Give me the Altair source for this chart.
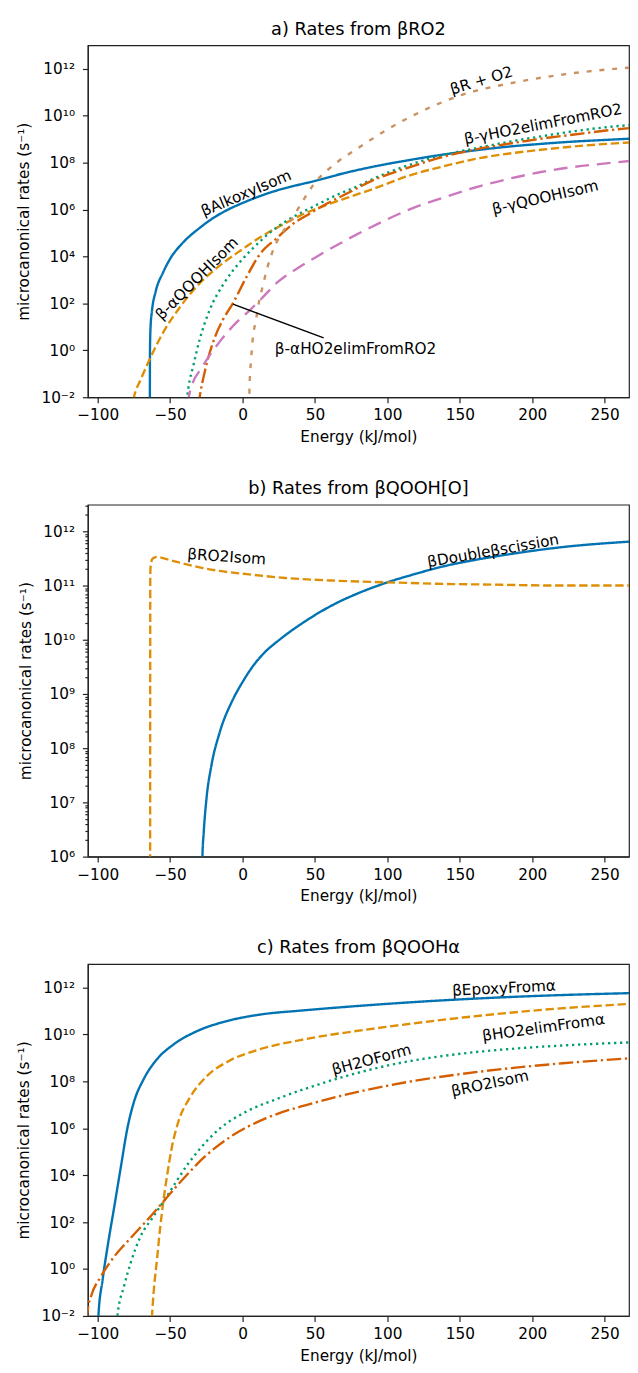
import altair as alt
import pandas as pd

FONT = "DejaVu Sans"
BLUE, ORANGE, GREEN, RED, PINK, TAN = "#0173b2", "#de8f05", "#029e73", "#d55e00", "#cc78bc", "#ca9161"

X_DOMAIN = [-106.8, 266.8]
x_ticks = [-100, -50, 0, 50, 100, 150, 200, 250]

# ---------------- panel a: rates from βRO2 (log10 of rate)
a_alkoxy_E = [-64.0, -63.9, -63.5, -62.5, -60, -55, -50, -41, -30, -20, -10, 0, 11, 24, 35, 50, 70, 92, 115, 138, 160, 183, 206, 229, 251, 267]
a_alkoxy_lg = [-3.0, 0.0, 1.0, 1.7, 2.5, 3.3, 3.9, 4.6, 5.2, 5.65, 6.0, 6.28, 6.55, 6.82, 7.0, 7.22, 7.55, 7.85, 8.11, 8.34, 8.52, 8.68, 8.8, 8.9, 8.97, 9.02]

a_aqooh_E = [-77, -75, -70, -65, -55, -43, -32, -16, -5, 2, 13, 26, 40, 56, 72, 92, 115, 138, 160, 183, 206, 229, 251, 267]
a_aqooh_lg = [-2.6, -2.0, -1.2, -0.5, 0.74, 1.86, 2.7, 3.6, 4.1, 4.4, 4.85, 5.3, 5.75, 6.15, 6.5, 6.92, 7.45, 7.83, 8.15, 8.38, 8.55, 8.69, 8.8, 8.86]

a_gho2_E = [-39, -37.5, -34, -29.6, -22.7, -13, -2, 8, 19.5, 33, 48, 65, 81, 92, 115, 138, 160, 183, 206, 229, 251, 267]
a_gho2_lg = [-2.4, -1.64, -0.66, 0.46, 1.72, 2.84, 3.75, 4.4, 5.05, 5.62, 6.1, 6.62, 7.04, 7.36, 7.9, 8.32, 8.6, 8.88, 9.12, 9.34, 9.51, 9.6]

a_aho2_E = [-30.5, -29.6, -26.2, -20.5, -13.6, -6.7, 2.5, 12, 24, 35, 47, 58, 70, 92, 115, 138, 160, 183, 206, 229, 251, 267]
a_aho2_lg = [-2.4, -2.0, -0.94, 0.32, 1.3, 2.0, 3.1, 4.1, 4.8, 5.4, 5.85, 6.25, 6.62, 7.3, 7.8, 8.24, 8.55, 8.8, 9.02, 9.2, 9.37, 9.47]

a_gqooh_E = [-38, -36.4, -27.3, -16, -4, 4, 13, 24, 38, 50, 70, 92, 115, 138, 160, 183, 206, 229, 251, 267]
a_gqooh_lg = [-2.3, -1.78, -0.66, 0.35, 1.2, 1.65, 2.2, 2.9, 3.5, 3.95, 4.65, 5.35, 6.0, 6.5, 6.93, 7.3, 7.6, 7.82, 7.97, 8.07]

a_ro2_E = [4.7, 4.8, 5.9, 7.0, 9.3, 11.6, 13.8, 17.2, 21.8, 25.2, 29.7, 34, 40, 45, 50, 58, 67, 78, 88, 99, 124, 151, 188, 229, 267]
a_ro2_lg = [-2.4, -1.6, -0.4, 0.46, 1.3, 2.14, 2.7, 3.54, 4.38, 4.8, 5.22, 5.6, 6.2, 6.7, 7.15, 7.65, 8.1, 8.55, 8.95, 9.38, 10.2, 10.88, 11.42, 11.82, 12.05]

a_lbl_text = ["βAlkoxyIsom", "β-αQOOHIsom", "βR + O2", "β-γHO2elimFromRO2", "β-γQOOHIsom", "β-αHO2elimFromRO2"]
a_lbl_E = [2.5, -31.5, 165, 207.5, 209, 78]
a_lbl_lg = [6.7, 3.06, 11.5, 9.64, 6.52, 0.04]
a_lbl_angle = [337, 315, 343, 349, 347, 0]

a_arrow_E = [-6.6, 56.0]
a_arrow_lg = [1.97, 0.53]

# ---------------- panel b: rates from βQOOH[O]
b_ro2_E = [-63.8, -63.7, -63.3, -62, -59, -57, -50, -38.6, -25, -15.9, 6.8, 29.5, 63.6, 99, 140, 165, 221, 267]
b_ro2_lg = [5.0, 11.2, 11.4, 11.5, 11.53, 11.52, 11.47, 11.39, 11.31, 11.27, 11.2, 11.14, 11.09, 11.06, 11.03, 11.02, 11.0, 11.0]

b_dbl_E = [-28, -27.7, -26.8, -24.9, -21.5, -15.9, -6.8, 0, 6.8, 15, 25, 43.2, 63.6, 80, 99, 120, 138, 160, 180, 221, 267]
b_dbl_lg = [5.5, 6.0, 6.45, 7.07, 7.68, 8.28, 8.89, 9.22, 9.5, 9.76, 9.99, 10.34, 10.66, 10.86, 11.05, 11.22, 11.35, 11.47, 11.56, 11.71, 11.81]

b_lbl_text = ["βRO2Isom", "βDoubleβscission"]
b_lbl_E = [-11, 173]
b_lbl_lg = [11.53, 11.64]
b_lbl_angle = [4, 350]

# ---------------- panel c: rates from βQOOHα
c_epoxy_E = [-100, -99.5, -96.6, -93.2, -88.6, -84.1, -79.5, -75, -68.2, -59.1, -47.7, -31.8, -11.4, 11.3, 40.9, 70.4, 99, 152, 207, 267]
c_epoxy_lg = [-2.6, -2.0, -0.45, 0.95, 2.64, 4.32, 6.0, 7.12, 8.1, 8.94, 9.57, 10.13, 10.56, 10.84, 11.02, 11.17, 11.3, 11.5, 11.65, 11.76]

c_ho2_E = [-63, -62.5, -61.4, -59.1, -56.8, -54.6, -52.3, -48.9, -44.3, -36.4, -25, -10, 11, 39, 55, 70, 99, 152, 207, 267]
c_ho2_lg = [-2.6, -2.0, -1.01, 0.39, 1.8, 2.92, 3.9, 5.16, 6.28, 7.3, 8.2, 8.85, 9.35, 9.75, 9.93, 10.07, 10.32, 10.72, 11.05, 11.3]

c_h2o_E = [-87, -86.4, -81.8, -77.3, -70.5, -62, -53.4, -45, -38.6, -29.5, -15.9, 2.3, 25, 48, 70, 83, 110, 138, 166, 193, 221, 267]
c_h2o_lg = [-2.5, -2.0, -0.73, 0.25, 1.38, 2.2, 2.99, 3.8, 4.4, 5.12, 5.98, 6.7, 7.28, 7.78, 8.2, 8.42, 8.8, 9.08, 9.28, 9.42, 9.53, 9.66]

c_ro2_E = [-107.5, -106.8, -104.5, -97.7, -88.6, -77.3, -63.6, -53.4, -40.9, -25, -6.8, 15.9, 43.2, 55, 70.4, 110, 166, 221, 267]
c_ro2_lg = [-2.2, -1.7, -1.15, -0.31, 0.53, 1.32, 2.24, 2.97, 3.85, 4.85, 5.7, 6.42, 6.98, 7.18, 7.42, 7.93, 8.43, 8.77, 8.98]

c_lbl_text = ["βEpoxyFromα", "βHO2elimFromα", "βH2OForm", "βRO2Isom"]
c_lbl_E = [180.5, 207.8, 89, 170.8]
c_lbl_lg = [11.97, 10.29, 8.92, 7.91]
c_lbl_angle = [357, 352, 345, 348]

# ---------------- axis tick labels
ya_ticks = [1e-2, 1e0, 1e2, 1e4, 1e6, 1e8, 1e10, 1e12]
ya_labels = ["10⁻²", "10⁰", "10²", "10⁴", "10⁶", "10⁸", "10¹⁰", "10¹²"]
yb_ticks = [1e6, 1e7, 1e8, 1e9, 1e10, 1e11, 1e12]
yb_labels = ["10⁶", "10⁷", "10⁸", "10⁹", "10¹⁰", "10¹¹", "10¹²"]
yb_minor = [m * 10 ** e for e in range(6, 13) for m in range(2, 10) if m * 10 ** e <= 3e12]

DASH = {"solid": [1, 0], "dashed": [8.5, 3.7], "dotted": [2.3, 3.8],
        "dashdot": [14.7, 3.7, 2.3, 3.7], "long": [14, 8], "short": [5, 8]}
LW = 2.4
FS = 15.5
PW, PH = 549, 357


def label_expr(ticks, labels):
    import math
    s = ""
    for t, l in zip(ticks, labels):
        s += "round(log(datum.value)/LN10) == %d ? '%s' : " % (round(math.log10(t)), l)
    return s + "''"


def panel(title, series, lbl, y_domain, y_ticks, y_labels, minor=None, arrow=None):
    xs = alt.Scale(domain=X_DOMAIN, nice=False, zero=False)
    ys = alt.Scale(type="log", domain=y_domain, nice=False)
    xaxis = alt.Axis(values=x_ticks, format="d", title="Energy (kJ/mol)", tickSize=5.5,
                     labelPadding=5.5, titlePadding=6.5, grid=False)
    yaxis = alt.Axis(values=y_ticks, labelExpr=label_expr(y_ticks, y_labels),
                     title="microcanonical rates (s⁻¹)", tickSize=5.5, labelPadding=8,
                     titlePadding=10, grid=False, labelOverlap=False)
    X = lambda f: alt.X(f, scale=xs, axis=xaxis)
    Y = lambda f: alt.Y(f, scale=ys, axis=yaxis)
    layers = []
    for name, E, lg, color, dash in series:
        df = pd.DataFrame({"E": E, "k": [10 ** v for v in lg], "i": range(len(E))})
        layers.append(
            alt.Chart(df).mark_line(color=color, strokeDash=DASH[dash], strokeWidth=LW,
                                    clip=True, interpolate="monotone").encode(
                x=X("E:Q"), y=Y("k:Q"), order="i:Q"))
    text, E, lg, ang = lbl
    tdf = pd.DataFrame({"t": text, "E": E, "k": [10 ** v for v in lg], "a": ang})
    layers.append(alt.Chart(tdf).mark_text(font=FONT, fontSize=FS, color="black",
                                           align="center", baseline="middle").encode(
        x=X("E:Q"), y=Y("k:Q"), text="t:N", angle=alt.Angle("a:Q", scale=None)))
    if arrow is not None:
        adf = pd.DataFrame({"E1": [arrow[0][0]], "E2": [arrow[0][1]],
                            "k1": [10 ** arrow[1][0]], "k2": [10 ** arrow[1][1]]})
        layers.append(alt.Chart(adf).mark_rule(color="black", strokeWidth=1.5).encode(
            x=X("E1:Q"), x2="E2:Q", y=Y("k1:Q"), y2="k2:Q"))
    ch = alt.layer(*layers)
    if minor is not None:
        mdf = pd.DataFrame({"E": [0.0], "k": [minor[0]]})
        mlayer = alt.Chart(mdf).mark_point(opacity=0).encode(
            x=X("E:Q"),
            y=alt.Y("k:Q", scale=ys, axis=alt.Axis(values=minor, labels=False, tickSize=3,
                                                   domain=False, title=None, grid=False,
                                                   orient="left")))
        ch = alt.layer(ch, mlayer).resolve_axis(y="independent")
    return ch.properties(
        width=PW, height=PH,
        title=alt.TitleParams(title, fontSize=18, fontWeight="normal", font=FONT,
                              color="black", offset=7))


pa = panel("a) Rates from βRO2",
           [("βAlkoxyIsom", a_alkoxy_E, a_alkoxy_lg, BLUE, "solid"),
            ("β-αQOOHIsom", a_aqooh_E, a_aqooh_lg, ORANGE, "dashed"),
            ("β-γHO2elimFromRO2", a_gho2_E, a_gho2_lg, GREEN, "dotted"),
            ("β-αHO2elimFromRO2", a_aho2_E, a_aho2_lg, RED, "dashdot"),
            ("β-γQOOHIsom", a_gqooh_E, a_gqooh_lg, PINK, "long"),
            ("βR + O2", a_ro2_E, a_ro2_lg, TAN, "short")],
           (a_lbl_text, a_lbl_E, a_lbl_lg, a_lbl_angle),
           [1e-2, 1e13], ya_ticks, ya_labels,
           arrow=(a_arrow_E, a_arrow_lg))

pb = panel("b) Rates from βQOOH[O]",
           [("βDoubleβscission", b_dbl_E, b_dbl_lg, BLUE, "solid"),
            ("βRO2Isom", b_ro2_E, b_ro2_lg, ORANGE, "dashed")],
           (b_lbl_text, b_lbl_E, b_lbl_lg, b_lbl_angle),
           [1e6, 3.1e12], yb_ticks, yb_labels, minor=yb_minor)

pc = panel("c) Rates from βQOOHα",
           [("βEpoxyFromα", c_epoxy_E, c_epoxy_lg, BLUE, "solid"),
            ("βHO2elimFromα", c_ho2_E, c_ho2_lg, ORANGE, "dashed"),
            ("βH2OForm", c_h2o_E, c_h2o_lg, GREEN, "dotted"),
            ("βRO2Isom", c_ro2_E, c_ro2_lg, RED, "dashdot")],
           (c_lbl_text, c_lbl_E, c_lbl_lg, c_lbl_angle),
           [1e-2, 1e13], ya_ticks, ya_labels)

chart = alt.vconcat(pa, pb, pc, spacing=33).properties(
    padding={"left": 7, "top": 2, "right": 0, "bottom": 0}
).configure_view(stroke="#222", strokeWidth=1.2).configure_axis(
    labelFont=FONT, titleFont=FONT, labelFontSize=FS, titleFontSize=FS,
    labelColor="black", titleColor="black", titleFontWeight="normal",
    domainColor="#222", tickColor="#222", domainWidth=1.2, tickWidth=1.2
).configure_text(font=FONT)

chart.save("out.html", embed_options={"renderer": "svg", "actions": False})
